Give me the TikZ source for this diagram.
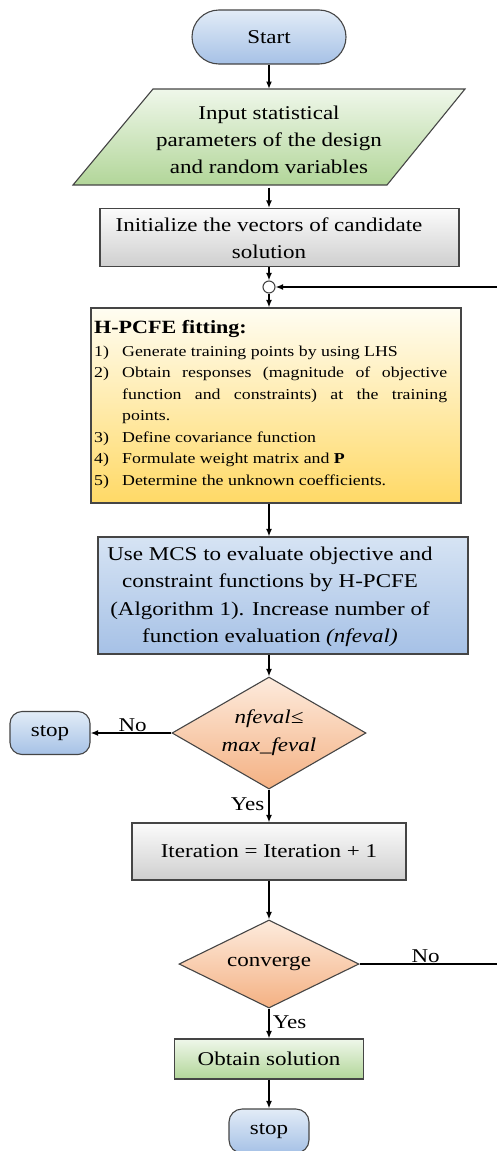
\documentclass[tikz,border=0pt]{standalone}
\usepackage{fontspec}
\setmainfont{Liberation Serif}[FakeStretch=1.18]
\usetikzlibrary{shapes.geometric,arrows.meta,calc}
\definecolor{bord}{HTML}{454545}
\definecolor{blueT}{HTML}{E2ECF7}
\definecolor{blueB}{HTML}{A6C1E6}
\definecolor{greenT}{HTML}{EFF7EA}
\definecolor{greenB}{HTML}{B2D699}
\definecolor{grayT}{HTML}{FBFBFB}
\definecolor{grayB}{HTML}{CFCFCF}
\definecolor{yelT}{HTML}{FFFDF2}
\definecolor{yelB}{HTML}{FFD966}
\definecolor{orT}{HTML}{FDEBDD}
\definecolor{orB}{HTML}{F4B183}
\newcommand{\fitlabel}[1]{#1\hfil}
\tikzset{
  base/.style={draw=bord, line width=1.1pt, inner sep=0pt},
  term/.style={base, top color=blueT, bottom color=blueB},
  graybox/.style={base, top color=grayT, bottom color=grayB},
  greenbox/.style={base, top color=greenT, bottom color=greenB},
  bluebox/.style={base, top color=blueT!80!blueB, bottom color=blueB},
  yelbox/.style={base, top color=yelT, bottom color=yelB},
  decis/.style={base, diamond, aspect=1.7, top color=orT, bottom color=orB},
  txt/.style={font=\fontsize{19.5}{27}\selectfont, align=center, inner sep=0pt},
  arr/.style={line width=1.5pt, -{Latex[length=7.5pt,width=6pt]}},
  lbl/.style={font=\fontsize{19.5}{24}\selectfont, inner sep=1pt}
}
\begin{document}
\begin{tikzpicture}[x=1pt,y=-1pt]
\useasboundingbox (0,0) rectangle (496,1151);
% Start
\node[term, rounded corners=27pt, minimum width=154pt, minimum height=54pt, txt] (start) at (269,37) {Start};
% Input parallelogram
\shade[draw=bord, line width=1.1pt, top color=greenT, bottom color=greenB]
  (153,89) -- (465,89) -- (387,185) -- (73,185) -- cycle;
\node[txt, minimum width=240pt, minimum height=96pt] (inp) at (269,139.5)
  {Input statistical\\parameters of the design\\and random variables};
% Initialize
\node[graybox, minimum width=359pt, minimum height=58pt] (init) at (279.5,237.5) {};
\node[txt] (initt) at (269,238) {Initialize the vectors of candidate\\solution};
% circle
\node[draw=bord, line width=1.1pt, circle, fill=white, minimum size=12pt, inner sep=0pt] (circ) at (269,287) {};
% H-PCFE box
\node[yelbox, minimum width=370pt, minimum height=195pt] (fit) at (276,405.5) {};
\node[anchor=north west, inner sep=0pt, text width=353pt, align=justify,
      font=\fontsize{15.1}{21.5}\selectfont] (fitt) at (94,320)
{{\fontsize{18.7}{21.5}\selectfont\bfseries H-PCFE fitting:}\par\vspace{1.5pt}
\begin{list}{}{\setlength{\leftmargin}{28pt}\setlength{\labelwidth}{28pt}\setlength{\labelsep}{0pt}%
  \setlength{\itemsep}{0pt}\setlength{\parsep}{0pt}\setlength{\topsep}{0pt}\setlength{\partopsep}{0pt}%
  \let\makelabel\fitlabel}
\item[1)] Generate training points by using LHS
\item[2)] Obtain responses (magnitude of objective function and constraints) at the training\linebreak points.
\item[3)] Define covariance function
\item[4)] Formulate weight matrix and \textbf{P}
\item[5)] Determine the unknown coefficients.
\end{list}};
% MCS box
\node[bluebox, minimum width=370pt, minimum height=117pt] (mcs) at (283,595.5) {};
\node[txt, font=\fontsize{19.5}{27.5}\selectfont] (mcst) at (270,597) {Use MCS to evaluate objective and\\constraint functions by H-PCFE\\(Algorithm 1). Increase number of\\function evaluation \textit{(nfeval)}};
% decision 1
\node[decis, minimum width=194pt, minimum height=112pt, txt, font=\fontsize{19.5}{28}\selectfont\itshape] (d1) at (269,733) {nfeval≤\\max\_feval};
% stop 1
\node[term, rounded corners=12pt, minimum width=80pt, minimum height=43pt, txt] (stop1) at (50,733) {stop};
% Iteration
\node[graybox, minimum width=274pt, minimum height=57pt, txt] (iter) at (269,851.5) {Iteration = Iteration + 1};
% decision 2
\node[decis, minimum width=180pt, minimum height=88pt, txt] (d2) at (269,964) {converge};
% Obtain
\node[greenbox, minimum width=189pt, minimum height=40pt, txt] (obt) at (269,1059) {Obtain solution};
% stop 2
\node[term, rounded corners=13pt, minimum width=80pt, minimum height=44pt, txt] (stop2) at (269,1131) {stop};
% connectors
\draw[arr] (start.south) -- (inp.south |- 0,89);
\draw[arr] (inp.south) -- (inp.south |- init.north);
\draw[arr] (circ |- init.south) -- (circ.north);
\draw[arr] (circ.south) -- (circ |- fit.north);
\draw[arr] (circ |- fit.south) -- (circ |- mcs.north);
\draw[arr] (circ |- mcs.south) -- (d1.north);
\draw[arr] (d1.west) -- node[lbl, above, pos=0.48]{No} (stop1.east);
\draw[arr] (d1.south) -- node[lbl, left, pos=0.45, xshift=-3pt]{Yes} (iter.north);
\draw[arr] (iter.south) -- (d2.north);
\draw[arr] (d2.east) -- node[lbl, above, pos=0.47]{No} (500,964) |- (circ.east);
\draw[arr] (d2.south) -- node[lbl, right, pos=0.45, xshift=2pt]{Yes} (obt.north);
\draw[arr] (obt.south) -- (stop2.north);
\end{tikzpicture}
\end{document}
